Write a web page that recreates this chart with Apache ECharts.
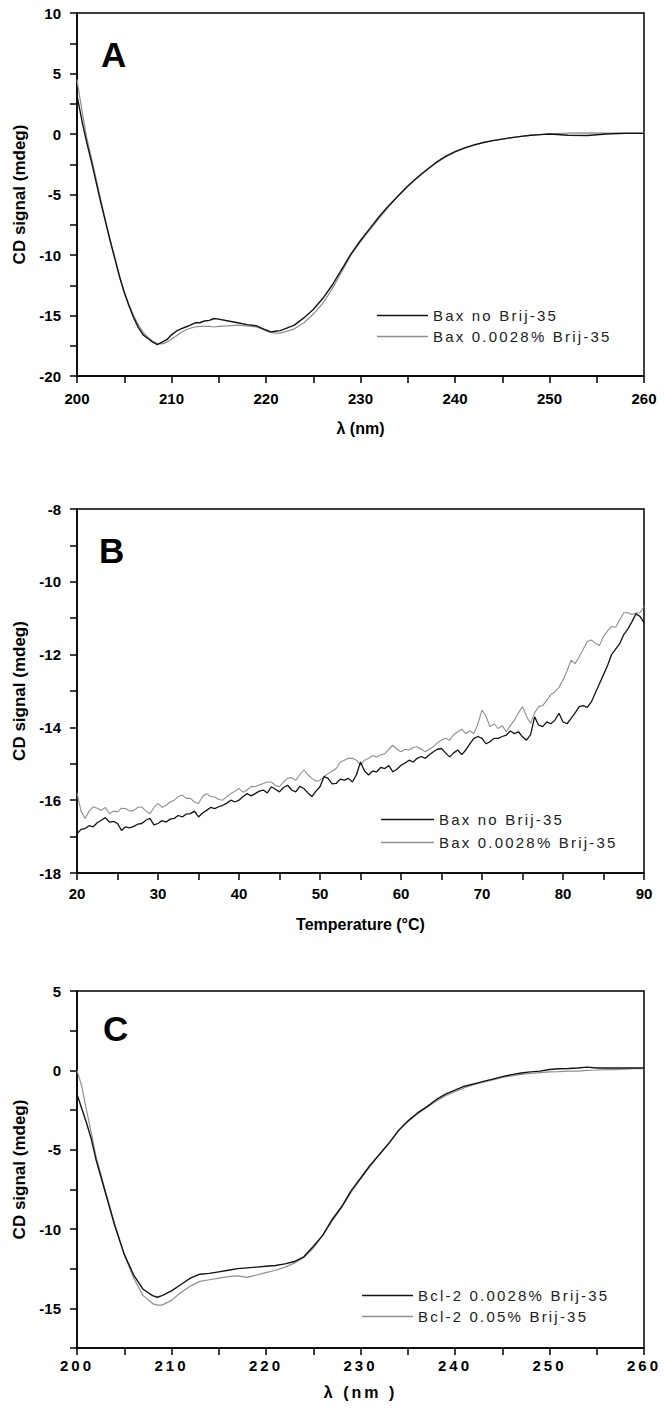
<!DOCTYPE html>
<html><head><meta charset="utf-8">
<script src="https://cdn.jsdelivr.net/npm/echarts@6.0.0/dist/echarts.min.js"></script>
<style>
html,body{margin:0;padding:0;background:#fff}
#chart{width:664px;height:1415px}
#chart text[style*="Liberation"]{letter-spacing:2.2px}
#chart text[style*="Helvetica"]{letter-spacing:3px}
</style></head>
<body><div id="chart"></div>
<script>
// ---------- Panel A : CD spectra ----------
var A_WAVELENGTH = [200,200.3,200.6,201,201.5,202,202.5,203,203.5,204,204.5,205,205.5,206,206.5,207,207.5,208,208.5,209,209.5,210,210.5,211,211.5,212,212.5,213,213.5,214,214.5,215,216,217,218,219,220,220.5,221,221.5,222,223,224,225,226,227,228,229,230,231,232,233,234,235,236,237,238,239,240,241,242,243,244,245,246,247,248,249,250,252,254,256,258,260];
var A_NO_BRIJ = [3.2,2.0,0.8,-0.6,-2.2,-3.9,-5.6,-7.2,-8.8,-10.3,-11.8,-13.1,-14.2,-15.2,-16.0,-16.6,-16.9,-17.2,-17.4,-17.2,-17.0,-16.6,-16.3,-16.1,-15.95,-15.8,-15.6,-15.6,-15.45,-15.4,-15.25,-15.3,-15.45,-15.6,-15.75,-15.85,-16.2,-16.35,-16.3,-16.25,-16.1,-15.8,-15.2,-14.5,-13.6,-12.5,-11.2,-9.9,-8.8,-7.8,-6.8,-5.9,-5.1,-4.3,-3.6,-2.95,-2.35,-1.85,-1.45,-1.15,-0.9,-0.7,-0.55,-0.42,-0.3,-0.2,-0.1,-0.05,0.0,-0.1,-0.12,0.0,0.05,0.05];
var A_BRIJ_0028 = [4.5,3.0,1.6,-0.2,-1.9,-3.6,-5.4,-7.1,-8.7,-10.2,-11.7,-13.0,-14.1,-15.0,-15.8,-16.4,-16.8,-17.1,-17.3,-17.35,-17.2,-16.95,-16.7,-16.4,-16.2,-16.05,-15.95,-15.9,-15.9,-15.9,-15.95,-15.9,-15.85,-15.8,-15.85,-15.95,-16.25,-16.4,-16.45,-16.45,-16.35,-16.1,-15.6,-14.9,-14.0,-12.8,-11.4,-10.0,-8.9,-7.9,-6.95,-6.0,-5.1,-4.35,-3.65,-3.0,-2.4,-1.9,-1.5,-1.2,-0.95,-0.72,-0.55,-0.42,-0.3,-0.2,-0.12,-0.05,0.02,0.08,0.1,0.08,0.1,0.1];

// ---------- Panel B : thermal melt ----------
var B_TEMP = [20,20.5,21,21.5,22,22.5,23,23.5,24,24.5,25,25.5,26,26.5,27,27.5,28,28.5,29,29.5,30,30.5,31,31.5,32,32.5,33,33.5,34,34.5,35,35.5,36,36.5,37,37.5,38,38.5,39,39.5,40,40.5,41,41.5,42,42.5,43,43.5,44,44.5,45,45.5,46,46.5,47,47.5,48,48.5,49,49.5,50,50.5,51,51.5,52,52.5,53,53.5,54,54.5,55,55.5,56,56.5,57,57.5,58,58.5,59,59.5,60,60.5,61,61.5,62,62.5,63,63.5,64,64.5,65,65.5,66,66.5,67,67.5,68,68.5,69,69.5,70,70.5,71,71.5,72,72.5,73,73.5,74,74.5,75,75.5,76,76.5,77,77.5,78,78.5,79,79.5,80,80.5,81,81.5,82,82.5,83,83.5,84,84.5,85,85.5,86,86.5,87,87.5,88,88.5,89,89.5,90];
var B_NO_BRIJ = [-16.92,-16.8,-16.78,-16.7,-16.73,-16.62,-16.55,-16.48,-16.6,-16.58,-16.64,-16.83,-16.73,-16.76,-16.72,-16.66,-16.64,-16.55,-16.5,-16.68,-16.64,-16.56,-16.6,-16.52,-16.5,-16.42,-16.46,-16.38,-16.37,-16.3,-16.46,-16.35,-16.28,-16.2,-16.23,-16.18,-16.14,-16.08,-16.0,-16.05,-16.0,-15.9,-15.82,-15.88,-15.82,-15.75,-15.72,-15.8,-15.63,-15.7,-15.77,-15.65,-15.59,-15.72,-15.77,-15.62,-15.68,-15.8,-15.9,-15.75,-15.63,-15.35,-15.4,-15.55,-15.54,-15.42,-15.45,-15.4,-15.5,-15.3,-14.95,-15.2,-15.31,-15.2,-15.22,-15.1,-15.13,-15.05,-15.22,-15.15,-15.04,-14.98,-14.9,-14.95,-14.85,-14.8,-14.85,-14.75,-14.67,-14.6,-14.58,-14.7,-14.81,-14.7,-14.62,-14.75,-14.62,-14.45,-14.3,-14.25,-14.3,-14.45,-14.39,-14.3,-14.3,-14.25,-14.21,-14.1,-14.17,-14.12,-14.26,-14.35,-14.2,-13.71,-13.94,-13.98,-13.85,-13.9,-13.8,-13.61,-13.85,-13.9,-13.75,-13.6,-13.43,-13.4,-13.45,-13.3,-13.05,-12.8,-12.55,-12.3,-12.0,-11.85,-11.7,-11.45,-11.3,-11.1,-10.88,-10.95,-11.12];
var B_BRIJ_0028 = [-15.8,-16.3,-16.5,-16.3,-16.18,-16.22,-16.28,-16.2,-16.37,-16.3,-16.32,-16.22,-16.23,-16.3,-16.28,-16.2,-16.18,-16.3,-16.37,-16.2,-16.09,-16.2,-16.14,-16.05,-16.0,-15.9,-15.86,-15.95,-15.95,-16.05,-16.09,-15.9,-15.82,-15.9,-15.91,-15.98,-16.0,-15.9,-15.82,-15.75,-15.68,-15.78,-15.72,-15.62,-15.63,-15.58,-15.54,-15.5,-15.5,-15.6,-15.63,-15.5,-15.4,-15.38,-15.45,-15.3,-15.17,-15.3,-15.4,-15.48,-15.45,-15.35,-15.27,-15.2,-15.13,-14.95,-14.9,-14.85,-14.85,-14.9,-15.04,-14.9,-14.85,-14.78,-14.81,-14.75,-14.72,-14.6,-14.49,-14.6,-14.67,-14.6,-14.62,-14.55,-14.53,-14.6,-14.67,-14.6,-14.53,-14.42,-14.35,-14.3,-14.35,-14.2,-14.12,-14.05,-14.17,-14.1,-14.17,-13.9,-13.52,-13.7,-13.98,-13.9,-14.03,-13.95,-14.12,-13.95,-13.8,-13.6,-13.43,-13.7,-13.89,-13.6,-13.43,-13.4,-13.25,-13.1,-13.02,-12.9,-12.7,-12.45,-12.15,-12.25,-12.06,-11.85,-11.64,-11.6,-11.69,-11.75,-11.5,-11.35,-11.23,-11.25,-11.05,-10.85,-10.85,-10.9,-10.86,-10.85,-10.68];

// ---------- Panel C : Bcl-2 CD spectra ----------
var C_WAVELENGTH = [200,200.5,201,201.5,202,203,204,205,206,207,208,208.5,209,210,211,212,213,214,215,216,217,218,219,220,221,222,223,224,225,226,227,228,229,230,231,232,233,234,235,236,237,238,239,240,241,242,243,244,245,246,247,248,249,250,251,252,253,254,255,256,257,258,259,260];
var C_BRIJ_0028 = [-1.5,-2.4,-3.3,-4.3,-5.6,-7.7,-9.8,-11.6,-12.9,-13.8,-14.2,-14.3,-14.2,-13.9,-13.5,-13.1,-12.85,-12.8,-12.7,-12.6,-12.5,-12.45,-12.4,-12.35,-12.3,-12.2,-12.05,-11.75,-11.1,-10.4,-9.4,-8.6,-7.6,-6.8,-6.0,-5.3,-4.6,-3.8,-3.2,-2.7,-2.3,-1.85,-1.5,-1.25,-1.0,-0.85,-0.7,-0.55,-0.4,-0.27,-0.17,-0.1,-0.05,0.05,0.1,0.12,0.15,0.2,0.15,0.15,0.15,0.15,0.15,0.15];
var C_BRIJ_005 = [0.0,-1.0,-2.5,-3.9,-5.4,-7.6,-9.7,-11.6,-13.1,-14.2,-14.7,-14.8,-14.8,-14.5,-14.0,-13.6,-13.3,-13.2,-13.1,-13.0,-12.95,-13.05,-12.9,-12.75,-12.6,-12.4,-12.15,-11.8,-11.2,-10.4,-9.5,-8.65,-7.7,-6.85,-6.05,-5.3,-4.6,-3.85,-3.25,-2.75,-2.35,-1.95,-1.6,-1.35,-1.1,-0.9,-0.75,-0.6,-0.45,-0.35,-0.25,-0.2,-0.15,-0.1,-0.08,-0.05,-0.05,0.0,0.02,0.05,0.05,0.08,0.1,0.1];

// ---------- labels ----------
var PANEL_LETTERS = ['A','B','C'];
var SERIES_NAMES = ['Bax no Brij-35','Bax 0.0028% Brij-35','Bcl-2 0.0028% Brij-35','Bcl-2 0.05% Brij-35'];
var Y_TITLE = 'CD signal (mdeg)';
var X_TITLES = ['λ (nm)','Temperature (°C)','λ (nm )'];

function zip(xs, ys){ return xs.map(function(x,i){ return [x, ys[i]]; }); }
function every(step){ return function(v){ return Math.abs(v % step) < 1e-9 ? String(v) : ''; }; }

var BLACK = '#141414', GREY = '#8f8f8f';
var axisLine = {show:true, onZero:false, lineStyle:{color:'#000', width:1.5}};
var axisTick = {show:true, inside:false, length:7, lineStyle:{color:'#000', width:1.5}};

function xAxis(gi, min, max, interval, labelStep, name, gap, margin, fam){
  return {type:'value', gridIndex:gi, min:min, max:max, interval:interval,
    axisLine:axisLine, axisTick:axisTick, splitLine:{show:false},
    axisLabel:{formatter:every(labelStep), margin:margin, color:'#000', fontSize:15, fontWeight:'bold', fontFamily:fam},
    name:name, nameLocation:'middle', nameGap:gap,
    nameTextStyle:{color:'#000', fontSize:16, fontWeight:'bold', fontFamily:fam}};
}
function yAxis(gi, min, max, interval, labelStep){
  return {type:'value', gridIndex:gi, min:min, max:max, interval:interval,
    axisLine:axisLine, axisTick:axisTick, splitLine:{show:false},
    axisLabel:{formatter:every(labelStep), margin:16, color:'#000', fontSize:15, fontWeight:'bold', fontFamily:'Arial'},
    name:Y_TITLE, nameLocation:'middle', nameGap:47,
    nameTextStyle:{color:'#000', fontSize:17, fontWeight:'bold', fontFamily:'Arial'}};
}
function line(name, gi, data, color, width){
  return {type:'line', name:name, xAxisIndex:gi, yAxisIndex:gi, data:data, symbol:'none',
    showSymbol:false, lineStyle:{color:color, width:width}, itemStyle:{color:color}, silent:true};
}
function legend(names, left, top, gap, w){
  return {data:names, orient:'vertical', left:left, top:top, itemWidth:w, itemHeight:1.5, itemGap:gap,
    icon:'rect', padding:0, selectedMode:false,
    textStyle:{fontFamily:'Liberation Sans', fontSize:15, color:'#222'}};
}
function letter(t, x, y){
  return {type:'text', x:x, y:y, silent:true,
    style:{text:t, font:'bold 35px Arial', fill:'#000', verticalAlign:'middle', align:'left'}};
}

var chart = echarts.init(document.getElementById('chart'), null, {renderer:'svg', width:664, height:1415});
chart.setOption({
  animation:false,
  backgroundColor:'#fff',
  textStyle:{fontFamily:'Arial'},
  grid:[
    {left:77, top:13, width:567, height:363, show:true, borderColor:'#000', borderWidth:1.5},
    {left:77, top:509, width:567, height:364, show:true, borderColor:'#000', borderWidth:1.5},
    {left:77, top:991, width:567, height:357, show:true, borderColor:'#000', borderWidth:1.5}
  ],
  xAxis:[
    xAxis(0, 200, 260, 5, 10, X_TITLES[0], 44, 15, 'Arial'),
    xAxis(1, 20, 90, 5, 10, X_TITLES[1], 43, 13, 'Arial'),
    xAxis(2, 200, 260, 5, 10, X_TITLES[2], 36, 10, 'Helvetica')
  ],
  yAxis:[
    yAxis(0, -20, 10, 2.5, 5),
    yAxis(1, -18, -8, 1, 2),
    yAxis(2, -17.5, 5, 2.5, 5)
  ],
  legend:[
    legend([SERIES_NAMES[0], SERIES_NAMES[1]], 377, 308, 6, 51),
    legend([SERIES_NAMES[0], SERIES_NAMES[1]], 381, 812, 8, 53),
    legend([SERIES_NAMES[2], SERIES_NAMES[3]], 362, 1288, 6, 51)
  ],
  graphic:[
    letter(PANEL_LETTERS[0], 101, 54),
    letter(PANEL_LETTERS[1], 99, 550),
    letter(PANEL_LETTERS[2], 103, 1028)
  ],
  series:[
    line(SERIES_NAMES[1], 0, zip(A_WAVELENGTH, A_BRIJ_0028), GREY, 1.2),
    line(SERIES_NAMES[0], 0, zip(A_WAVELENGTH, A_NO_BRIJ), BLACK, 1.4),
    line(SERIES_NAMES[1], 1, zip(B_TEMP, B_BRIJ_0028), GREY, 1.1),
    line(SERIES_NAMES[0], 1, zip(B_TEMP, B_NO_BRIJ), BLACK, 1.3),
    line(SERIES_NAMES[3], 2, zip(C_WAVELENGTH, C_BRIJ_005), GREY, 1.2),
    line(SERIES_NAMES[2], 2, zip(C_WAVELENGTH, C_BRIJ_0028), BLACK, 1.4)
  ]
});
</script>
</body></html>
